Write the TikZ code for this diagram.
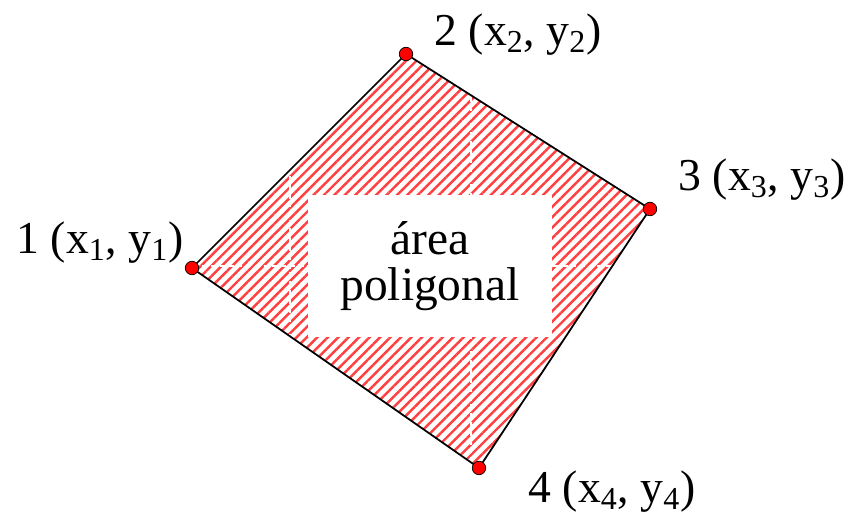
\documentclass[tikz,border=0pt]{standalone}
\usepackage{fontspec}
\setmainfont{LiberationSerif}[Extension=.ttf,UprightFont=*-Regular,Ligatures=TeX]
\usetikzlibrary{patterns.meta}

\begin{document}
\begin{tikzpicture}[x=0.02cm,y=-0.02cm,font=\rmfamily\fontsize{26}{26}\selectfont,
  vertex/.style={circle,draw=black,line width=0.4pt,fill=red,inner sep=0pt,minimum size=0.27cm},
  coordlabel/.style={inner sep=0pt},
  hatchgrid/.style={white,line width=1pt,dash pattern=on 3pt off 2pt}]
\useasboundingbox (0,0) rectangle (854,519);
% vertices of the polygon
\coordinate(p1) at (192,268);
\coordinate(p2) at (406,54);
\coordinate(p3) at (650,209);
\coordinate(p4) at (479,468);
% hatched area
\fill[pattern={Lines[angle=45,distance=4.2pt,line width=1.4pt]},pattern color=red!75] (p1)--(p2)--(p3)--(p4)--cycle;
\begin{scope}
\clip (p1)--(p2)--(p3)--(p4)--cycle;
\draw[hatchgrid](0,266)--(854,266);
\draw[hatchgrid](290,0)--(290,519);
\draw[hatchgrid](471,0)--(471,519);
\end{scope}
\draw[line width=1pt](p1)--(p2)--(p3)--(p4)--cycle;
\node(area)[fill=white,minimum width=4.9cm,minimum height=2.84cm,align=center,font=\rmfamily\fontsize{27}{26}\selectfont] at (430,266){área\\poligonal};
\node[vertex](v1) at (p1){};
\node[vertex](v2) at (p2){};
\node[vertex](v3) at (p3){};
\node[vertex](v4) at (p4){};
\node[coordlabel](l1) at (100,243){1 (x\textsubscript{1}, y\textsubscript{1})};
\node[coordlabel](l2) at (518,35){2 (x\textsubscript{2}, y\textsubscript{2})};
\node[coordlabel](l3) at (762,180){3 (x\textsubscript{3}, y\textsubscript{3})};
\node[coordlabel](l4) at (612,492){4 (x\textsubscript{4}, y\textsubscript{4})};
\end{tikzpicture}
\end{document}
